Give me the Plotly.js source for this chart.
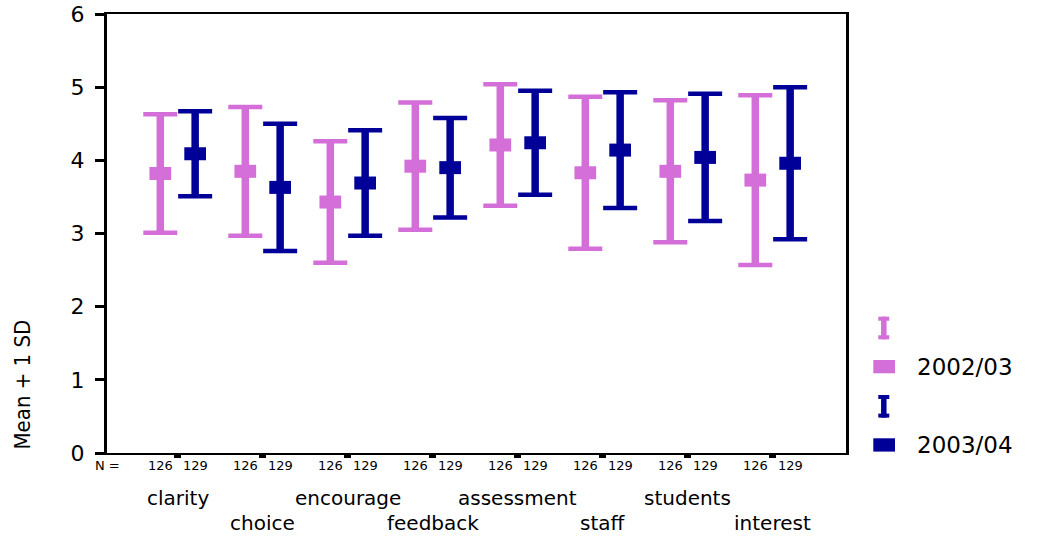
<!DOCTYPE html>
<html>
<head>
<meta charset="utf-8">
<script src="https://cdn.plot.ly/plotly-3.0.1.min.js"></script>
<style>
  html, body { margin: 0; padding: 0; background: #ffffff; overflow: hidden; }
  #chart { width: 1042px; height: 538px; }
</style>
</head>
<body>
<div id="chart"></div>
<script>
// ---- data ----
const categories = ['clarity', 'choice', 'encourage', 'feedback', 'assessment', 'staff', 'students', 'interest'];
const seriesNames = ['2002/03', '2003/04'];
const n2002 = [126, 126, 126, 126, 126, 126, 126, 126];
const n2003 = [129, 129, 129, 129, 129, 129, 129, 129];
const mean2002 = [3.82, 3.85, 3.43, 3.92, 4.21, 3.83, 3.85, 3.73];
const sd2002   = [0.81, 0.88, 0.83, 0.87, 0.83, 1.04, 0.97, 1.16];
const mean2003 = [4.09, 3.63, 3.69, 3.90, 4.24, 4.14, 4.04, 3.96];
const sd2003   = [0.58, 0.87, 0.72, 0.68, 0.71, 0.79, 0.87, 1.04];
const yTickVals = [0, 1, 2, 3, 4, 5, 6];
const yTitle = 'Mean + 1 SD';
const nLabel = 'N =';

// ---- styling ----
const PINK = '#d46ed8';
const BLUE = '#000099';
const OFFSET = 0.205;
const M = { l: 107, r: 196, t: 14, b: 85 };
const W = 1042, H = 538;
const PW = W - M.l - M.r, PH = H - M.t - M.b;
const px = x => (x - M.l) / PW;      // page px -> paper x
const py = y => (H - M.b - y) / PH;   // page px -> paper y

const xIdx = categories.map((c, i) => i + 1);
const series = [
  { name: seriesNames[0], x: xIdx.map(v => v - OFFSET), mean: mean2002, sd: sd2002, n: n2002, color: PINK },
  { name: seriesNames[1], x: xIdx.map(v => v + OFFSET), mean: mean2003, sd: sd2003, n: n2003, color: BLUE }
];

const traces = [];
series.forEach(s => {
  // thick stems
  traces.push({
    type: 'scatter', mode: 'markers', x: s.x, y: s.mean, showlegend: false,
    marker: { size: 1, opacity: 0, color: s.color },
    error_y: { type: 'data', array: s.sd, visible: true, color: s.color, thickness: 7.5, width: 0 }
  });
  // caps + mean markers (wide rectangles)
  traces.push({
    type: 'scatter', mode: 'markers', x: s.x, y: s.mean, name: s.name, showlegend: false,
    marker: { symbol: 'line-ew', size: 15.5, color: s.color, line: { color: s.color, width: 13 } },
    error_y: { type: 'data', array: s.sd, visible: true, color: s.color, thickness: 4.5, width: 17 }
  });
});

const AX_FONT = 'DejaVu Sans, Verdana, Arial, sans-serif';
const annotations = [];
// N row
annotations.push({ xref: 'paper', yref: 'paper', x: 0, y: 0, xanchor: 'center', yanchor: 'middle',
  yshift: -12, xshift: 0, text: nLabel, showarrow: false, font: { family: AX_FONT, size: 13, color: '#000' } });
series.forEach(s => {
  s.x.forEach((xv, i) => {
    annotations.push({ xref: 'x', yref: 'paper', x: xv, y: 0, xanchor: 'center', yanchor: 'middle',
      yshift: -12, text: String(s.n[i]), showarrow: false, font: { family: AX_FONT, size: 13, color: '#000' } });
  });
});
// staggered category names
categories.forEach((c, i) => {
  annotations.push({ xref: 'x', yref: 'paper', x: i + 1, y: 0, xanchor: 'center', yanchor: 'middle',
    yshift: (i % 2 === 0) ? -45 : -70, text: c, showarrow: false,
    font: { family: AX_FONT, size: 20, color: '#000' } });
});
// y title
annotations.push({ xref: 'paper', yref: 'paper', x: px(22.5), y: py(385), xanchor: 'center', yanchor: 'middle',
  textangle: -90, text: yTitle, showarrow: false,
  font: { family: 'Liberation Sans Narrow, DejaVu Sans Condensed, Arial Narrow, Liberation Sans, sans-serif', size: 22, color: '#000' } });

// legend (I-beam icon, rectangle swatch, label)
const shapes = [];
const legendRows = [{ iTop: 316.7, rectTop: 360 }, { iTop: 395, rectTop: 438.3 }];
series.forEach((s, k) => {
  const r = legendRows[k];
  const cx = 883.8, capW = 11, capH = 4, stemW = 5.5, iH = 22.6;
  const rect = (x0, y0, x1, y1) => ({ type: 'rect', xref: 'paper', yref: 'paper',
    x0: px(x0), x1: px(x1), y0: py(y1), y1: py(y0), fillcolor: s.color, line: { width: 0 } });
  shapes.push(rect(cx - capW / 2, r.iTop, cx + capW / 2, r.iTop + capH));
  shapes.push(rect(cx - stemW / 2, r.iTop, cx + stemW / 2, r.iTop + iH));
  shapes.push(rect(cx - capW / 2, r.iTop + iH - capH, cx + capW / 2, r.iTop + iH));
  shapes.push(rect(873.3, r.rectTop, 895, r.rectTop + 13.3));
  annotations.push({ xref: 'paper', yref: 'paper', x: px(915), y: py(r.rectTop + 7), xanchor: 'left', yanchor: 'middle',
    text: s.name, showarrow: false, font: { family: AX_FONT, size: 23, color: '#000' } });
});

const layout = {
  width: W, height: H,
  margin: M,
  paper_bgcolor: '#ffffff', plot_bgcolor: '#ffffff',
  showlegend: false,
  hovermode: false,
  xaxis: {
    range: [0.168, 8.862], tickvals: xIdx, showticklabels: false,
    ticks: 'outside', ticklen: 3, tickwidth: 7, tickcolor: '#000',
    showgrid: false, zeroline: false, showline: true, linewidth: 2, linecolor: '#000', mirror: true
  },
  yaxis: {
    range: [0, 6], tickvals: yTickVals, ticks: 'outside', ticklen: 9, tickwidth: 3, tickcolor: '#000',
    tickfont: { family: AX_FONT, size: 22, color: '#000' }, ticklabelstandoff: 6,
    showgrid: false, zeroline: false, showline: true, linewidth: 3, linecolor: '#000', mirror: true
  },
  annotations: annotations,
  shapes: shapes
};

Plotly.newPlot('chart', traces, layout, { displayModeBar: false, staticPlot: true });
</script>
</body>
</html>
